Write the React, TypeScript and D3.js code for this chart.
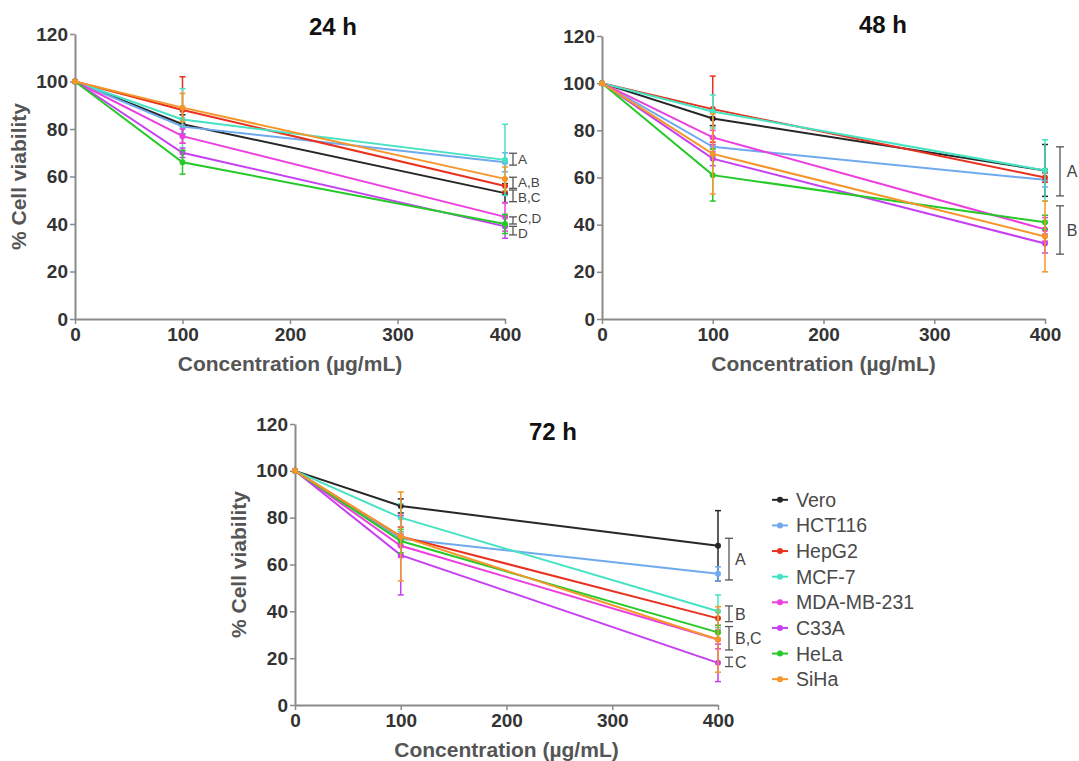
import React, { useEffect, useRef } from "react";
import * as d3 from "d3";

// concentrations (µg/mL) and cell lines
const concentrations = [0, 100, 400];
const cellLines = ["Vero", "HCT116", "HepG2", "MCF-7", "MDA-MB-231", "C33A", "HeLa", "SiHa"];
const lineColors = ["#262626", "#6fa9ee", "#e8321f", "#46e3c3", "#ec3fe0", "#c640f2", "#25c928", "#f5962a"];
const yTicks = [0, 20, 40, 60, 80, 100, 120];
const xTicks = [0, 100, 200, 300, 400];

// mean % viability, one row per cell line (same order as cellLines)
const mean24 = [
  [100, 82, 53], [100, 81, 66], [100, 88, 56], [100, 84, 67],
  [100, 77, 43], [100, 70, 39], [100, 66, 40], [100, 89, 59],
];
const sd24 = [
  [0, 4, 4], [0, 3, 4], [0, 14, 3], [0, 13, 15],
  [0, 3, 6], [0, 2, 5], [0, 5, 4], [0, 6, 5],
];
const mean48 = [
  [100, 85, 63], [100, 73, 59], [100, 89, 60], [100, 88, 63],
  [100, 77, 38], [100, 68, 32], [100, 61, 41], [100, 70, 35],
];
const sd48 = [
  [0, 3, 11], [0, 4, 3], [0, 14, 2], [0, 7, 13],
  [0, 3, 5], [0, 3, 4], [0, 11, 3], [0, 17, 15],
];
const mean72 = [
  [100, 85, 68], [100, 71, 56], [100, 72, 37], [100, 80, 40],
  [100, 68, 28], [100, 64, 18], [100, 70, 31], [100, 72, 28],
];
const sd72 = [
  [0, 3, 15], [0, 3, 3], [0, 4, 3], [0, 6, 7],
  [0, 5, 4], [0, 17, 8], [0, 5, 3], [0, 19, 14],
];

// statistical grouping brackets at 400 µg/mL: [label, top, bottom]
const groups24: [string, number, number][] = [
  ["A", 69.8, 64.8], ["A,B", 59.7, 55], ["B,C", 54.3, 49.4], ["C,D", 43, 40], ["D", 39, 35.4],
];
const groups48: [string, number, number][] = [["A", 73, 52.2], ["B", 48, 27.5]];
const groups72: [string, number, number][] = [
  ["A", 71.2, 53.4], ["B", 42.3, 35.6], ["B,C", 33.5, 23.5], ["C", 20.4, 16.4],
];
// small vertical nudges (px) so the tightly packed 24 h labels stay readable
const nudge24 = [0, -1, 1, -2.5, 2.5];

const FONT = "'Liberation Sans', Arial, sans-serif";

type Panel = {
  left: number; right: number; top: number; bottom: number;
  title: string; titleX: number; titleY: number; yLabel: boolean;
  bracketX: number; labelX: number; labelCenter: boolean; labelSize: number;
  mean: number[][]; sd: number[][]; groups: [string, number, number][]; nudge?: number[];
};

const panels: Panel[] = [
  { left: 75, right: 505, top: 34, bottom: 319, title: "24 h", titleX: 333, titleY: 35, yLabel: true,
    bracketX: 513, labelX: 518, labelCenter: false, labelSize: 13.5, mean: mean24, sd: sd24,
    groups: groups24, nudge: nudge24 },
  { left: 602, right: 1045, top: 36, bottom: 319, title: "48 h", titleX: 883, titleY: 33, yLabel: false,
    bracketX: 1060, labelX: 1072, labelCenter: true, labelSize: 16, mean: mean48, sd: sd48, groups: groups48 },
  { left: 295, right: 718, top: 424, bottom: 705, title: "72 h", titleX: 553, titleY: 440, yLabel: true,
    bracketX: 729, labelX: 735, labelCenter: false, labelSize: 16, mean: mean72, sd: sd72, groups: groups72 },
];

function drawPanel(svg: d3.Selection<SVGSVGElement, unknown, null, undefined>, p: Panel) {
  const x = d3.scaleLinear().domain([0, 400]).range([p.left, p.right]);
  const y = d3.scaleLinear().domain([0, 120]).range([p.bottom, p.top]);
  const g = svg.append("g");

  const yAxis = g.append("g")
    .attr("transform", `translate(${p.left},0)`)
    .call(d3.axisLeft(y).tickValues(yTicks).tickSize(5).tickSizeOuter(0).tickPadding(2));
  const xAxis = g.append("g")
    .attr("transform", `translate(0,${p.bottom})`)
    .call(d3.axisBottom(x).tickValues(xTicks).tickSize(5).tickSizeOuter(0).tickPadding(4));
  [xAxis, yAxis].forEach(a => {
    a.select(".domain").attr("stroke", "#8a8a8a").attr("stroke-width", 2);
    a.selectAll(".tick line").attr("stroke", "#8a8a8a").attr("stroke-width", 1.5);
    a.selectAll(".tick text")
      .attr("fill", "#333")
      .style("font-family", FONT)
      .style("font-size", "19px")
      .style("font-weight", "bold");
  });

  g.append("text")
    .attr("x", p.titleX).attr("y", p.titleY)
    .attr("text-anchor", "middle")
    .style("font-family", FONT).style("font-size", "24px").style("font-weight", "bold")
    .attr("fill", "#111")
    .text(p.title);

  g.append("text")
    .attr("x", (p.left + p.right) / 2).attr("y", p.bottom + 52)
    .attr("text-anchor", "middle")
    .style("font-family", FONT).style("font-size", "21px").style("font-weight", "bold")
    .attr("fill", "#555")
    .text("Concentration (\u00b5g/mL)");

  if (p.yLabel) {
    const cy = (p.top + p.bottom) / 2;
    g.append("text")
      .attr("transform", `translate(${p.left - 49},${cy}) rotate(-90)`)
      .attr("text-anchor", "middle")
      .style("font-family", FONT).style("font-size", "21px").style("font-weight", "bold")
      .attr("fill", "#555")
      .text("% Cell viability");
  }

  const line = d3.line<number>()
    .x((d, i) => x(concentrations[i]))
    .y(d => y(d));

  cellLines.forEach((name, k) => {
    const c = lineColors[k];
    const vals = p.mean[k];
    const errs = p.sd[k];
    const s = g.append("g");
    // error bars
    vals.forEach((v, i) => {
      if (!errs[i]) return;
      const cx = x(concentrations[i]);
      const hi = y(v + errs[i]);
      const lo = y(v - errs[i]);
      s.append("line").attr("x1", cx).attr("x2", cx).attr("y1", hi).attr("y2", lo)
        .attr("stroke", c).attr("stroke-width", 1.5);
      [hi, lo].forEach(yy =>
        s.append("line").attr("x1", cx - 3).attr("x2", cx + 3).attr("y1", yy).attr("y2", yy)
          .attr("stroke", c).attr("stroke-width", 1.5));
    });
    s.append("path").datum(vals)
      .attr("d", line)
      .attr("fill", "none")
      .attr("stroke", c)
      .attr("stroke-width", 2);
    s.selectAll("circle").data(vals).enter().append("circle")
      .attr("cx", (d, i) => x(concentrations[i]))
      .attr("cy", d => y(d))
      .attr("r", 3)
      .attr("fill", c);
  });

  // grouping brackets
  p.groups.forEach(([label, top, bottom], i) => {
    const y1 = y(top), y2 = y(bottom);
    const bx = p.bracketX;
    const b = g.append("g").attr("stroke", "#555").attr("stroke-width", 1.3);
    b.append("line").attr("x1", bx).attr("x2", bx).attr("y1", y1).attr("y2", y2);
    b.append("line").attr("x1", bx - 4).attr("x2", bx + 4).attr("y1", y1).attr("y2", y1);
    b.append("line").attr("x1", bx - 4).attr("x2", bx + 4).attr("y1", y2).attr("y2", y2);
    const off = p.nudge ? p.nudge[i] : 0;
    g.append("text")
      .attr("x", p.labelX).attr("y", (y1 + y2) / 2 + off)
      .attr("dy", "0.36em")
      .attr("text-anchor", p.labelCenter ? "middle" : "start")
      .style("font-family", FONT).style("font-size", `${p.labelSize}px`)
      .attr("fill", "#444")
      .text(label);
  });
}

function drawLegend(svg: d3.Selection<SVGSVGElement, unknown, null, undefined>) {
  const ly = d3.scaleBand<string>().domain(cellLines).range([487, 692]);
  const lg = svg.append("g");
  cellLines.forEach((name, k) => {
    const cy = (ly(name) as number) + ly.bandwidth() / 2;
    lg.append("line").attr("x1", 772).attr("x2", 788).attr("y1", cy).attr("y2", cy)
      .attr("stroke", lineColors[k]).attr("stroke-width", 2);
    lg.append("circle").attr("cx", 780).attr("cy", cy).attr("r", 3).attr("fill", lineColors[k]);
    lg.append("text")
      .attr("x", 796).attr("y", cy).attr("dy", "0.36em")
      .style("font-family", FONT).style("font-size", "19.5px")
      .attr("fill", "#4a4a4a")
      .text(name);
  });
}

export default function App() {
  const ref = useRef<SVGSVGElement>(null);
  useEffect(() => {
    if (!ref.current) return;
    const svg = d3.select(ref.current);
    svg.selectAll("*").remove();
    panels.forEach(p => drawPanel(svg, p));
    drawLegend(svg);
  }, []);
  return (
    <svg
      ref={ref}
      width={1079}
      height={761}
      style={{ position: "absolute", left: 0, top: 0, background: "#fff" }}
    />
  );
}
